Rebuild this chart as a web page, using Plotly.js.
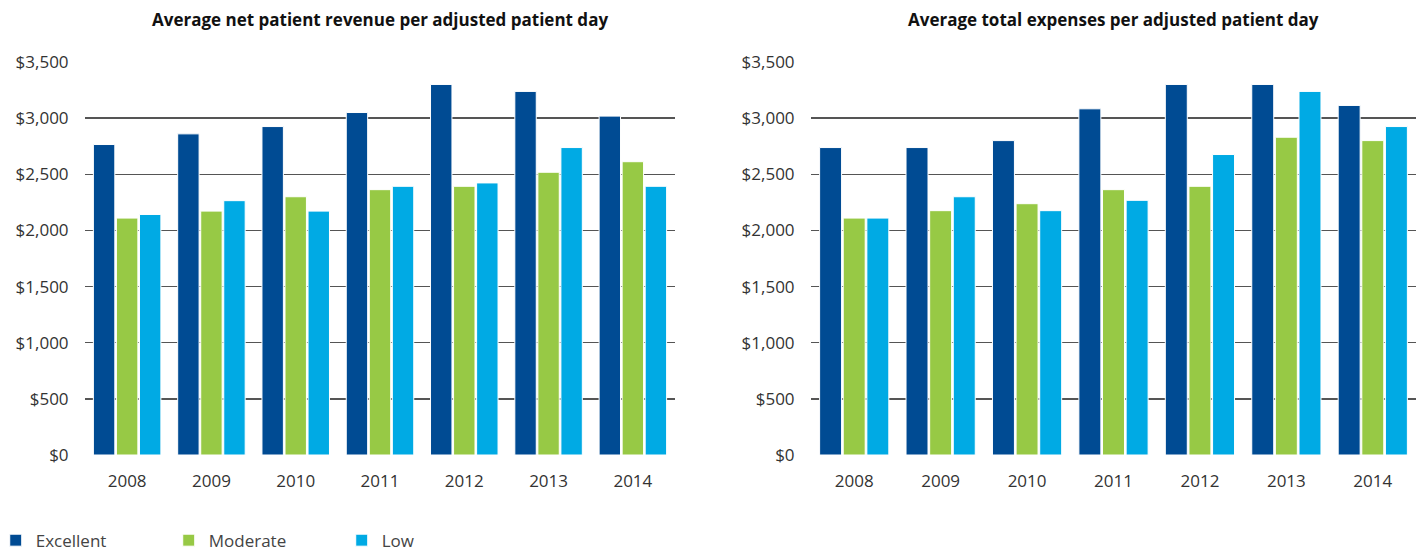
<!DOCTYPE html>
<html>
<head>
<meta charset="utf-8">
<script src="https://cdn.plot.ly/plotly-3.0.1.min.js"></script>
<style>html,body{margin:0;padding:0;background:#fff;}#chart{width:1423px;height:552px;}</style>
</head>
<body>
<div id="chart"></div>
<script>
const years = ['2008','2009','2010','2011','2012','2013','2014'];
const seriesNames = ['Excellent','Moderate','Low'];
const revenueExcellent = [2765, 2860, 2925, 3050, 3300, 3238, 3018];
const revenueModerate  = [2110, 2172, 2300, 2363, 2393, 2518, 2612];
const revenueLow       = [2142, 2265, 2172, 2393, 2423, 2738, 2393];
const expenseExcellent = [2738, 2738, 2800, 3083, 3300, 3300, 3113];
const expenseModerate  = [2110, 2176, 2238, 2363, 2393, 2830, 2800];
const expenseLow       = [2110, 2300, 2176, 2268, 2676, 3238, 2925];
const titles = ['Average net patient revenue per adjusted patient day','Average total expenses per adjusted patient day'];
const yTickVals = [0,500,1000,1500,2000,2500,3000,3500];
const yTickText = ['$0','$500','$1,000','$1,500','$2,000','$2,500','$3,000','$3,500'];

const colors = ['#004B93','#97C945','#00AAE4'];
const W = 1423, H = 552;
const FONT = '"Open Sans", "Noto Sans", sans-serif';

function bars(vals, idx, xa, ya, showleg){
  return {type:'bar', x:years, y:vals, name:seriesNames[idx], xaxis:xa, yaxis:ya,
    marker:{color:colors[idx], line:{color:'#ffffff', width:1}},
    showlegend:showleg, hoverinfo:'x+y+name'};
}
const data = [
  bars(revenueExcellent,0,'x','y',true),
  bars(revenueModerate,1,'x','y',true),
  bars(revenueLow,2,'x','y',true),
  bars(expenseExcellent,0,'x2','y2',false),
  bars(expenseModerate,1,'x2','y2',false),
  bars(expenseLow,2,'x2','y2',false)
];
const yDom = [(H-455)/H, (H-62)/H];
function yax(anchor){
  return {domain:yDom, anchor:anchor, range:[0,3500], tickvals:yTickVals, ticktext:yTickText,
    showgrid:true, gridcolor:'#555555', gridwidth:1.4, zeroline:false, showline:false,
    ticks:'outside', ticklen:12, tickcolor:'rgba(0,0,0,0)', layer:'below traces', automargin:false,
    tickfont:{family:FONT, size:17, color:'#333333'}, fixedrange:true};
}
function xax(dom, anchor){
  return {domain:dom, anchor:anchor, type:'category', showgrid:false, zeroline:false, showline:false, automargin:false,
    ticks:'outside', ticklen:11, tickcolor:'rgba(0,0,0,0)', tickfont:{family:FONT, size:17, color:'#333333'}, fixedrange:true};
}
const layout = {
  width:W, height:H, margin:{l:0,r:0,t:0,b:0, autoexpand:false}, paper_bgcolor:'#ffffff', plot_bgcolor:'rgba(0,0,0,0)',
  barmode:'group', bargap:0.18, bargroupgap:0.07,
  xaxis: xax([85/W, 675/W], 'y'),
  yaxis: yax('x'),
  xaxis2: xax([811/W, 1416/W], 'y2'),
  yaxis2: yax('x2'),
  showlegend:true,
  legend:{orientation:'h', x:-0.003, xanchor:'left', y:-0.012, yanchor:'bottom', entrywidth:128, entrywidthmode:'pixels',
    font:{family:FONT, size:17, color:'#444444'}, bgcolor:'rgba(0,0,0,0)'},
  annotations:[
    {text:'<b>'+titles[0]+'</b>', xref:'paper', yref:'paper', x:(85+675)/2/W, y:(H-19)/H, xanchor:'center', yanchor:'middle', showarrow:false,
      font:{family:FONT, size:17, color:'#111111'}},
    {text:'<b>'+titles[1]+'</b>', xref:'paper', yref:'paper', x:(811+1416)/2/W, y:(H-19)/H, xanchor:'center', yanchor:'middle', showarrow:false,
      font:{family:FONT, size:17, color:'#111111'}}
  ]
};
Plotly.newPlot('chart', data, layout, {displayModeBar:false, staticPlot:true});
</script>
</body>
</html>
